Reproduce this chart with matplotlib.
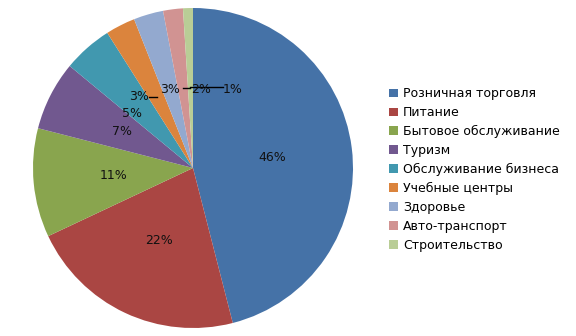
import numpy as np
import matplotlib
matplotlib.use('Agg')
import matplotlib.pyplot as plt
from matplotlib.patches import Patch

# data
categories = ['Розничная торговля', 'Питание', 'Бытовое обслуживание', 'Туризм',
              'Обслуживание бизнеса', 'Учебные центры', 'Здоровье',
              'Авто-транспорт', 'Строительство']
shares = [46, 22, 11, 7, 5, 3, 3, 2, 1]
colors = ['#4572A7', '#AA4643', '#89A54E', '#71588F', '#4198AF',
          '#DB843D', '#93A9CF', '#D19392', '#B9CD96']

fig = plt.figure(figsize=(5.76, 3.36), dpi=100)
ax = fig.add_axes([33/576, 8/336, 320/576, 320/336])

wedges, _ = ax.pie(shares, colors=colors, startangle=90, counterclock=False,
                   radius=1, wedgeprops=dict(linewidth=0))
ax.set_xlim(-1, 1)
ax.set_ylim(-1, 1)
ax.set_aspect('equal')

# labels inside the big slices
total = sum(shares)
cum = 0
for i, v in enumerate(shares):
    mid = (cum + v / 2) / total * 2 * np.pi
    cum += v
    if i < 4:
        ax.text(0.5 * np.sin(mid), 0.5 * np.cos(mid), f'{v}%',
                ha='center', va='center', fontsize=9, color='#111111')

# remaining slices: label positions picked by hand, some with leader lines
small = [
    # (index, text x, text y, line x0, line x1, line y)
    (4, -0.38, 0.34, None, None, None),
    (5, -0.34, 0.444, -0.275, -0.225, 0.444),
    (6, -0.144, 0.49, -0.0625, -0.019, 0.5),
    (7, 0.05, 0.49, None, None, None),
    (8, 0.25, 0.49, -0.02, 0.19, 0.505),
]
for i, tx, ty, x0, x1, ly in small:
    ax.text(tx, ty, f'{shares[i]}%', ha='center', va='center', fontsize=9,
            color='#111111')
    if x0 is not None:
        ax.plot([x0, x1], [ly, ly], color='black', lw=1)

handles = [Patch(facecolor=c, edgecolor='none') for c in colors]
fig.legend(handles, categories, loc='center left',
           bbox_to_anchor=(384/576, 1 - 169.5/336), frameon=False,
           fontsize=9, handlelength=0.7, handleheight=0.7,
           handletextpad=0.4, labelspacing=0.47, borderaxespad=0)

fig.savefig('out.png', dpi=100)
